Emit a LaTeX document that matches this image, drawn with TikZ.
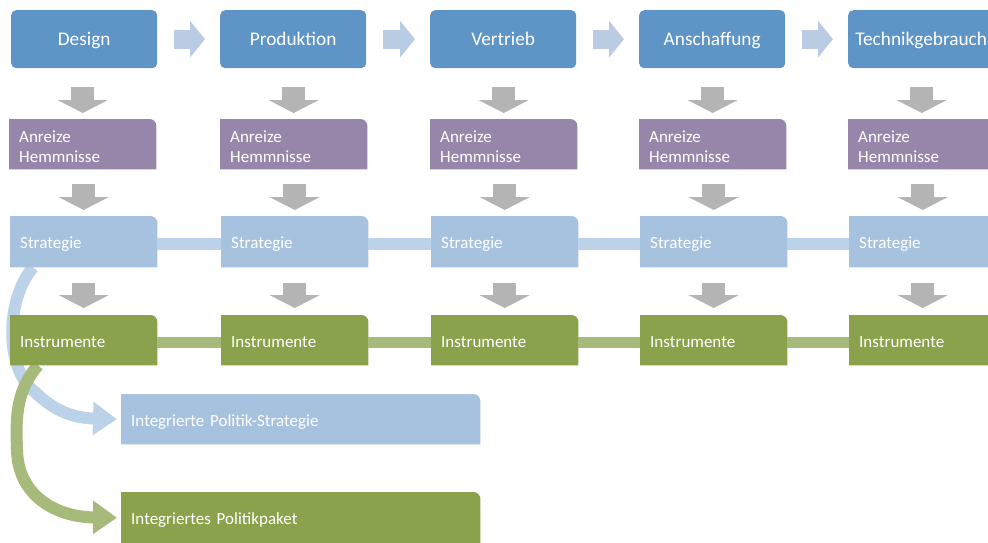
\documentclass[tikz,border=0pt]{standalone}
\usepackage{fontspec}
\setmainfont{Carlito}
\usetikzlibrary{arrows.meta,calc}
\pgfdeclarelayer{curves}
\pgfdeclarelayer{bg}
\pgfsetlayers{curves,bg,main}
\definecolor{topblue}{HTML}{5F94C7}
\definecolor{purp}{HTML}{9687AA}
\definecolor{sblue}{HTML}{A6C2DE}
\definecolor{igreen}{HTML}{8AA24C}
\definecolor{garr}{HTML}{B4B4B4}
\definecolor{rarr}{HTML}{B9CCE4}
\definecolor{sbarc}{HTML}{BCD2E8}
\definecolor{ibarc}{HTML}{A6BA7C}
\tikzset{
  topbox/.style={fill=topblue, rounded corners=5pt, minimum width=146pt, minimum height=58pt, inner sep=0pt, text=white, font=\fontsize{19.3}{22}\selectfont, text height=16pt, text depth=3pt, anchor=north west},
  rowbase/.style={minimum height=50pt, text width=127pt, inner xsep=10pt, inner ysep=0pt, align=left, text=white, font=\fontsize{17}{20}\selectfont, anchor=north west},
  rowbox/.style={rowbase, text height=17pt, text depth=3pt},
  rarrow/.style={draw=rarr, line width=19pt, -{Triangle[length=15pt,width=36pt]}},
  garrow/.style={draw=garr, line width=23pt, -{Triangle[length=13pt,width=50pt]}},
  sbar/.style={draw=sbarc, line width=12pt},
  ibar/.style={draw=ibarc, line width=11pt},
  scurve/.style={draw=sbarc, line width=12pt, -{Triangle[length=24pt,width=32pt]}},
  icurve/.style={draw=ibarc, line width=12pt, -{Triangle[length=24pt,width=32pt]}},
}
\newcommand\cornerfill[2]{\fill[#1] (#2.south west) -- (#2.north west) -- ([xshift=-7pt]#2.north east) arc[start angle=90,end angle=0,radius=7pt] -- (#2.south east) -- cycle;}
\begin{document}
\begin{tikzpicture}[x=1pt,y=-1pt]
\useasboundingbox (0,0) rectangle (988,543);
% top row
\node[topbox] (d1) at (11,10) {Design};
\node[topbox] (d2) at (220,10) {Produktion};
\node[topbox] (d3) at (430,10) {Vertrieb};
\node[topbox] (d4) at (639,10) {Anschaffung};
\node[topbox] (d5) at (848,10) {Technikgebrauch};
% rows
\foreach \n/\x in {1/9,2/220,3/430,4/639,5/848}{
  \node[rowbase] (a\n) at (\x,119) {\rule{0pt}{16pt}Anreize\\Hemmnisse};
  \node[rowbox, minimum height=51pt] (s\n) at (\x+1,216) {Strategie};
  \node[rowbox] (i\n) at (\x+1,315) {Instrumente};
}
\node[rowbox, text width=339pt] (ips) at (121,394) {Integrierte Politik-Strategie};
\node[rowbox, text width=339pt, minimum height=51pt] (ipp) at (121,492) {Integriertes Politikpaket};
\begin{pgfonlayer}{bg}
\foreach \n in {1,...,5}{
  \cornerfill{purp}{a\n}
  \cornerfill{sblue}{s\n}
  \cornerfill{igreen}{i\n}
}
\cornerfill{sblue}{ips}
\cornerfill{igreen}{ipp}
\end{pgfonlayer}
% right arrows
\foreach \a/\b in {1/2,2/3,3/4,4/5}{
  \draw[rarrow] ([xshift=17pt]d\a.east) -- ([xshift=-15pt]d\b.west);
}
% gray arrows
\foreach \n in {1,...,5}{
  \draw[garrow] ($(a\n.north |- d\n.south)+(0,19)$) -- ($(a\n.north)+(0,-6)$);
  \draw[garrow] ($(s\n.north |- a\n.south)+(0,15)$) -- ($(s\n.north)+(0,-6)$);
  \draw[garrow] ($(i\n.north |- s\n.south)+(0,16)$) -- ($(i\n.north)+(0,-7)$);
}
% bars
\foreach \a/\b in {1/2,2/3,3/4,4/5}{
  \draw[sbar] ([yshift=-2.5pt]s\a.east) -- ([yshift=-2.5pt]s\b.west);
  \draw[ibar] ([yshift=-2.5pt]i\a.east) -- ([yshift=-2.5pt]i\b.west);
}
% curves
\begin{pgfonlayer}{curves}
\draw[scurve] ([xshift=23pt]s1.south west) .. controls (5,300) and (5,370) .. (35,392) .. controls (55,412) and (75,418) .. ([xshift=-4pt]ips.west);
\draw[icurve] ([xshift=28pt]i1.south west) .. controls (15,392) and (16,420) .. (17,450) .. controls (18,495) and (55,517) .. ([xshift=-4pt]ipp.west);
\end{pgfonlayer}
\end{tikzpicture}
\end{document}
